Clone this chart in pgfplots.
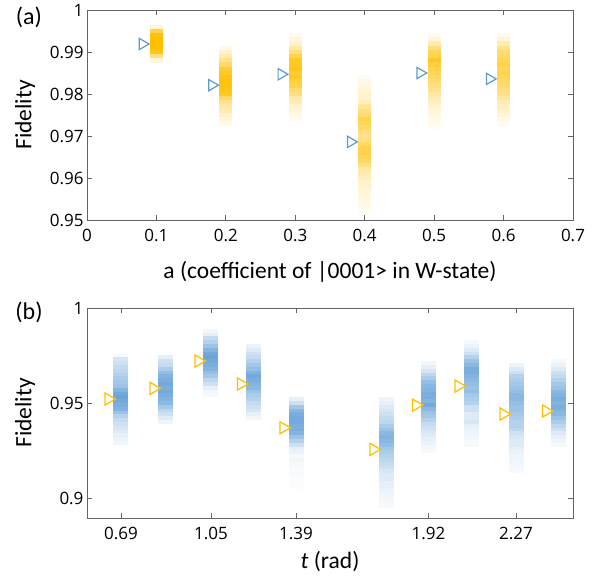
\documentclass[border=0pt]{standalone}
\usepackage{fontspec}
\setmainfont{Carlito}
\newfontfamily\tickfont{Open Sans}
\usepackage{pgfplots}
\pgfplotsset{compat=1.18}
\definecolor{barorange}{RGB}{255,192,0}
\definecolor{barblue}{RGB}{91,155,213}
\definecolor{axgray}{RGB}{100,100,100}

\newcommand{\labfont}{\fontsize{23.5}{24}\selectfont}
\pgfplotsset{
  panel/.style={
    scale only axis, width=486pt, height=210pt,
    axis line style={axgray, line width=0.9pt},
    tick style={axgray, line width=0.8pt},
    tick align=inside, major tick length=5pt,
    /pgf/number format/assume math mode=true,
    tick label style={font=\tickfont\fontsize{17}{17}\selectfont, text=black},
    every axis y label/.style={at={(axis description cs:-0.1276,0.5)}, rotate=90, anchor=center, font=\labfont},
    xticklabel style={yshift=-6pt},
    yticklabel style={/pgf/number format/.cd, fixed, precision=2},
    point meta min=0, point meta max=1,
  },
  density/.style={scatter, only marks, mark=-, point meta=explicit,
    scatter/use mapped color={draw=mapped color, fill=mapped color}},
}

\begin{document}
\begin{tikzpicture}
\path[use as bounding box] (-87pt,-356pt) rectangle (516pt,220pt);

% (a)
\begin{axis}[panel, at={(0,0)}, anchor=south west,
  xmin=0, xmax=0.7, ymin=0.95, ymax=1,
  xtick={0,0.1,...,0.7}, ytick={0.95,0.96,...,1.001},
  xlabel={a (coefficient of |0001> in W-state)},
  every axis x label/.style={at={(axis description cs:0.5,-0.248)}, anchor=center, font=\labfont},
  ylabel={Fidelity},
  colormap={orm}{color=(white) color=(barorange)},
]
\addplot[density, mark size=6.5pt, mark options={line width=4.5pt}] table[meta=m] {
x y m
0.1 0.996 0.15
0.1 0.995 0.7
0.1 0.994 0.95
0.1 0.993 1
0.1 0.992 1
0.1 0.991 1
0.1 0.990 0.9
0.1 0.989 0.5
0.1 0.988 0.15
0.2 0.991 0.1
0.2 0.990 0.2
0.2 0.989 0.3
0.2 0.988 0.45
0.2 0.987 0.6
0.2 0.986 0.8
0.2 0.985 0.85
0.2 0.984 0.9
0.2 0.983 0.95
0.2 0.982 0.95
0.2 0.981 0.9
0.2 0.980 0.85
0.2 0.979 0.6
0.2 0.978 0.45
0.2 0.977 0.35
0.2 0.976 0.3
0.2 0.975 0.2
0.2 0.974 0.15
0.2 0.973 0.1
0.3 0.994 0.08
0.3 0.993 0.12
0.3 0.992 0.2
0.3 0.991 0.35
0.3 0.990 0.5
0.3 0.989 0.7
0.3 0.988 0.85
0.3 0.987 0.85
0.3 0.986 0.9
0.3 0.985 0.8
0.3 0.984 0.85
0.3 0.983 0.75
0.3 0.982 0.7
0.3 0.981 0.55
0.3 0.980 0.5
0.3 0.979 0.35
0.3 0.978 0.3
0.3 0.977 0.2
0.3 0.976 0.15
0.3 0.975 0.1
0.3 0.974 0.06
0.4 0.984 0.06
0.4 0.983 0.1
0.4 0.982 0.12
0.4 0.981 0.15
0.4 0.980 0.2
0.4 0.979 0.2
0.4 0.978 0.25
0.4 0.977 0.4
0.4 0.976 0.5
0.4 0.975 0.55
0.4 0.974 0.7
0.4 0.973 0.65
0.4 0.972 0.6
0.4 0.971 0.5
0.4 0.970 0.45
0.4 0.969 0.5
0.4 0.968 0.6
0.4 0.967 0.7
0.4 0.966 0.7
0.4 0.965 0.65
0.4 0.964 0.6
0.4 0.963 0.5
0.4 0.962 0.35
0.4 0.961 0.3
0.4 0.960 0.25
0.4 0.959 0.2
0.4 0.958 0.2
0.4 0.957 0.15
0.4 0.956 0.15
0.4 0.955 0.12
0.4 0.954 0.1
0.4 0.953 0.08
0.4 0.952 0.05
0.5 0.994 0.08
0.5 0.993 0.15
0.5 0.992 0.3
0.5 0.991 0.5
0.5 0.990 0.65
0.5 0.989 0.7
0.5 0.988 0.85
0.5 0.987 0.75
0.5 0.986 0.7
0.5 0.985 0.65
0.5 0.984 0.6
0.5 0.983 0.55
0.5 0.982 0.5
0.5 0.981 0.45
0.5 0.980 0.35
0.5 0.979 0.3
0.5 0.978 0.25
0.5 0.977 0.2
0.5 0.976 0.15
0.5 0.975 0.12
0.5 0.974 0.1
0.5 0.973 0.08
0.5 0.972 0.05
0.6 0.994 0.08
0.6 0.993 0.15
0.6 0.992 0.3
0.6 0.991 0.45
0.6 0.990 0.55
0.6 0.989 0.6
0.6 0.988 0.65
0.6 0.987 0.7
0.6 0.986 0.65
0.6 0.985 0.7
0.6 0.984 0.65
0.6 0.983 0.6
0.6 0.982 0.55
0.6 0.981 0.5
0.6 0.980 0.45
0.6 0.979 0.4
0.6 0.978 0.3
0.6 0.977 0.25
0.6 0.976 0.2
0.6 0.975 0.15
0.6 0.974 0.1
0.6 0.973 0.06
};
\addplot[only marks, mark=triangle, mark size=6.5pt,
  mark options={rotate=-90, draw=barblue, fill=white, line width=1.2pt}] coordinates {
(0.08,0.9919) (0.18,0.9821) (0.28,0.9847) (0.38,0.9686) (0.48,0.9850) (0.58,0.9836)};
\end{axis}

% (b)
\begin{axis}[panel, at={(0,-298pt)}, anchor=south west,
  xmin=0.554, xmax=2.498, ymin=0.8895, ymax=1,
  xtick={0.69,1.05,1.39,1.92,2.27}, ytick={0.9,0.95,1},
  xlabel={\textit{t} (rad)},
  every axis x label/.style={at={(axis description cs:0.5,-0.205)}, anchor=center, font=\labfont},
  ylabel={Fidelity},
  colormap={blm}{color=(white) color=(barblue)},
]
\addplot[density, mark size=7.5pt, mark options={line width=4pt}] table[meta=m] {
x y m
0.69 0.975 0.05
0.69 0.973 0.25
0.69 0.971 0.3
0.69 0.969 0.35
0.69 0.967 0.4
0.69 0.965 0.45
0.69 0.963 0.5
0.69 0.961 0.55
0.69 0.959 0.6
0.69 0.957 0.75
0.69 0.955 0.85
0.69 0.953 0.9
0.69 0.951 0.85
0.69 0.949 0.8
0.69 0.947 0.75
0.69 0.945 0.6
0.69 0.943 0.45
0.69 0.941 0.35
0.69 0.939 0.3
0.69 0.937 0.25
0.69 0.935 0.2
0.69 0.933 0.15
0.69 0.931 0.12
0.69 0.929 0.08
0.87 0.974 0.15
0.87 0.972 0.3
0.87 0.970 0.35
0.87 0.968 0.5
0.87 0.966 0.65
0.87 0.964 0.75
0.87 0.962 0.8
0.87 0.960 0.85
0.87 0.958 0.8
0.87 0.956 0.85
0.87 0.954 0.8
0.87 0.952 0.75
0.87 0.950 0.7
0.87 0.948 0.55
0.87 0.946 0.4
0.87 0.944 0.3
0.87 0.942 0.2
0.87 0.940 0.1
1.05 0.988 0.08
1.05 0.986 0.15
1.05 0.984 0.35
1.05 0.982 0.45
1.05 0.980 0.6
1.05 0.978 0.75
1.05 0.976 0.85
1.05 0.974 0.9
1.05 0.972 0.85
1.05 0.970 0.8
1.05 0.968 0.75
1.05 0.966 0.65
1.05 0.964 0.55
1.05 0.962 0.4
1.05 0.960 0.3
1.05 0.958 0.15
1.05 0.956 0.08
1.05 0.954 0.06
1.22 0.980 0.12
1.22 0.978 0.2
1.22 0.976 0.3
1.22 0.974 0.35
1.22 0.972 0.45
1.22 0.970 0.55
1.22 0.968 0.65
1.22 0.966 0.75
1.22 0.964 0.85
1.22 0.962 0.8
1.22 0.960 0.75
1.22 0.958 0.7
1.22 0.956 0.6
1.22 0.954 0.5
1.22 0.952 0.45
1.22 0.950 0.35
1.22 0.948 0.3
1.22 0.946 0.25
1.22 0.944 0.15
1.22 0.942 0.08
1.39 0.952 0.15
1.39 0.950 0.3
1.39 0.948 0.55
1.39 0.946 0.7
1.39 0.944 0.8
1.39 0.942 0.85
1.39 0.940 0.85
1.39 0.938 0.8
1.39 0.936 0.8
1.39 0.934 0.75
1.39 0.932 0.6
1.39 0.930 0.45
1.39 0.928 0.3
1.39 0.926 0.15
1.39 0.924 0.12
1.39 0.922 0.06
1.39 0.920 0.1
1.39 0.918 0.06
1.39 0.916 0.04
1.39 0.914 0.04
1.39 0.912 0.04
1.39 0.910 0.03
1.39 0.908 0.03
1.39 0.906 0.03
1.75 0.952 0.1
1.75 0.950 0.15
1.75 0.948 0.2
1.75 0.946 0.25
1.75 0.944 0.3
1.75 0.942 0.35
1.75 0.940 0.4
1.75 0.938 0.5
1.75 0.936 0.6
1.75 0.934 0.7
1.75 0.932 0.75
1.75 0.930 0.7
1.75 0.928 0.65
1.75 0.926 0.55
1.75 0.924 0.5
1.75 0.922 0.45
1.75 0.920 0.4
1.75 0.918 0.35
1.75 0.916 0.3
1.75 0.914 0.25
1.75 0.912 0.2
1.75 0.910 0.2
1.75 0.908 0.15
1.75 0.906 0.15
1.75 0.904 0.12
1.75 0.902 0.1
1.75 0.900 0.08
1.75 0.898 0.06
1.75 0.896 0.05
1.92 0.971 0.08
1.92 0.969 0.15
1.92 0.967 0.25
1.92 0.965 0.4
1.92 0.963 0.5
1.92 0.961 0.65
1.92 0.959 0.7
1.92 0.957 0.75
1.92 0.955 0.8
1.92 0.953 0.8
1.92 0.951 0.75
1.92 0.949 0.85
1.92 0.947 0.7
1.92 0.945 0.6
1.92 0.943 0.55
1.92 0.941 0.45
1.92 0.939 0.35
1.92 0.937 0.3
1.92 0.935 0.25
1.92 0.933 0.2
1.92 0.931 0.15
1.92 0.929 0.12
1.92 0.927 0.08
1.92 0.925 0.05
2.09 0.982 0.06
2.09 0.980 0.12
2.09 0.978 0.2
2.09 0.976 0.3
2.09 0.974 0.45
2.09 0.972 0.6
2.09 0.970 0.7
2.09 0.968 0.8
2.09 0.966 0.8
2.09 0.964 0.75
2.09 0.962 0.7
2.09 0.960 0.65
2.09 0.958 0.6
2.09 0.956 0.65
2.09 0.954 0.55
2.09 0.952 0.5
2.09 0.950 0.45
2.09 0.948 0.3
2.09 0.946 0.3
2.09 0.944 0.2
2.09 0.942 0.2
2.09 0.940 0.25
2.09 0.938 0.15
2.09 0.936 0.12
2.09 0.934 0.1
2.09 0.932 0.08
2.09 0.930 0.06
2.09 0.928 0.05
2.27 0.970 0.1
2.27 0.968 0.2
2.27 0.966 0.3
2.27 0.964 0.45
2.27 0.962 0.5
2.27 0.960 0.55
2.27 0.958 0.6
2.27 0.956 0.65
2.27 0.954 0.7
2.27 0.952 0.7
2.27 0.950 0.65
2.27 0.948 0.6
2.27 0.946 0.6
2.27 0.944 0.55
2.27 0.942 0.5
2.27 0.940 0.45
2.27 0.938 0.45
2.27 0.936 0.4
2.27 0.934 0.3
2.27 0.932 0.25
2.27 0.930 0.2
2.27 0.928 0.2
2.27 0.926 0.15
2.27 0.924 0.12
2.27 0.922 0.1
2.27 0.920 0.1
2.27 0.918 0.08
2.27 0.916 0.06
2.27 0.914 0.05
2.44 0.972 0.06
2.44 0.970 0.12
2.44 0.968 0.2
2.44 0.966 0.3
2.44 0.964 0.35
2.44 0.962 0.45
2.44 0.960 0.55
2.44 0.958 0.6
2.44 0.956 0.7
2.44 0.954 0.75
2.44 0.952 0.8
2.44 0.950 0.75
2.44 0.948 0.8
2.44 0.946 0.75
2.44 0.944 0.7
2.44 0.942 0.6
2.44 0.940 0.5
2.44 0.938 0.4
2.44 0.936 0.3
2.44 0.934 0.2
2.44 0.932 0.15
2.44 0.930 0.1
2.44 0.928 0.06
};
\addplot[only marks, mark=triangle, mark size=7pt,
  mark options={rotate=-90, draw=barorange, fill=white, line width=1.3pt}] coordinates {
(0.64,0.9521) (0.82,0.9577) (1.00,0.9721) (1.17,0.9600) (1.34,0.9370)
(1.70,0.9256) (1.87,0.9489) (2.04,0.9589) (2.22,0.9442) (2.39,0.9458)};
\end{axis}

\node[font=\fontsize{24}{24}\selectfont] at (-58pt,203pt) {(a)};
\node[font=\fontsize{24}{24}\selectfont] at (-58pt,-92pt) {(b)};
\end{tikzpicture}
\end{document}
